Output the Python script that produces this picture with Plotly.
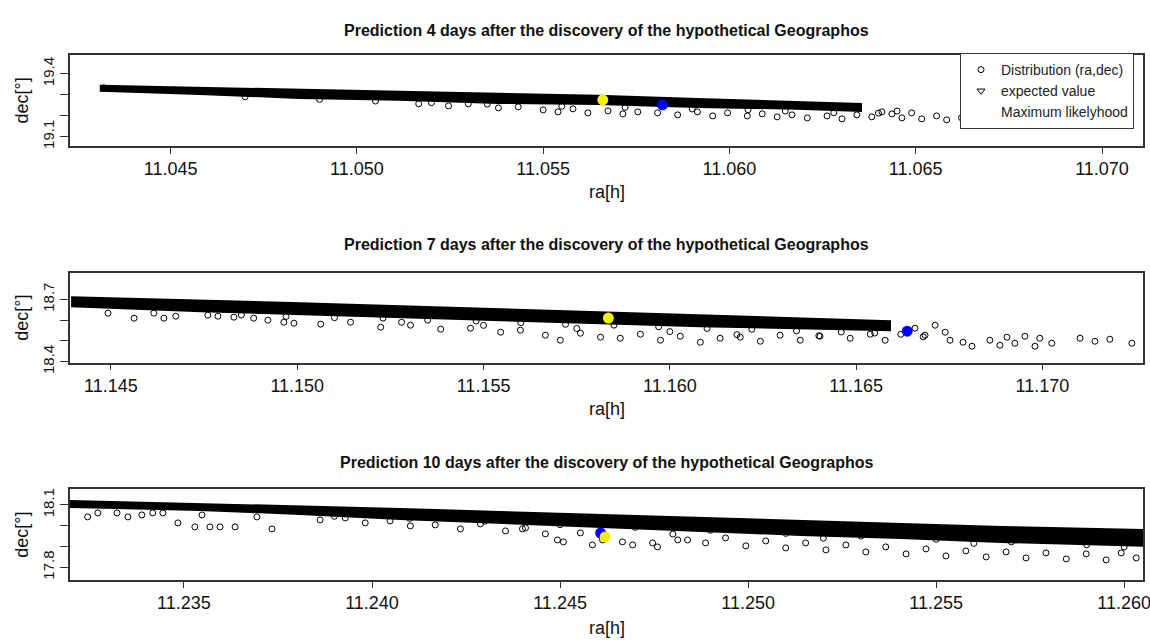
import plotly.graph_objects as go

# ---------------- data ----------------
titles = ["Prediction 4 days after the discovery of the hypothetical Geographos",
          "Prediction 7 days after the discovery of the hypothetical Geographos",
          "Prediction 10 days after the discovery of the hypothetical Geographos"]

# Panel 1 (4 days): dense band outline (upper edge then lower edge, reversed)
band1_ra = [11.04310, 11.04578, 11.04845, 11.05112, 11.05380, 11.05647, 11.05914, 11.06182, 11.06353,
            11.06353, 11.06182, 11.05914, 11.05647, 11.05380, 11.05112, 11.04845, 11.04578, 11.04310]
band1_dec = [19.343, 19.333, 19.323, 19.314, 19.304, 19.295, 19.280, 19.266, 19.256,
             19.223, 19.233, 19.242, 19.256, 19.261, 19.276, 19.285, 19.304, 19.319]
pts1_ra = [11.04321, 11.05166, 11.05246, 11.05299, 11.05380, 11.05433, 11.05500, 11.05540, 11.05580,
           11.05620, 11.05674, 11.05714, 11.05754, 11.05807, 11.05861, 11.05914, 11.05955, 11.05995,
           11.06048, 11.06088, 11.06128, 11.06168, 11.06209, 11.06262, 11.06302, 11.06342, 11.06382,
           11.06409, 11.06436, 11.06463, 11.06489, 11.06516, 11.06556, 11.06583, 11.06623, 11.06676,
           11.06703,
           11.0470, 11.0490, 11.0505, 11.0520, 11.0535, 11.0555, 11.0572, 11.0590, 11.0605,
           11.0615, 11.0628, 11.0640, 11.0645]
pts1_dec = [19.333, 19.2565, 19.2469, 19.2565, 19.2373, 19.2421, 19.2278, 19.2182, 19.2325,
            19.2134, 19.2230, 19.2086, 19.2182, 19.2134, 19.2038, 19.2182, 19.1990, 19.2134,
            19.1990, 19.2086, 19.1943, 19.2038, 19.1895, 19.1990, 19.1847, 19.2038, 19.1943,
            19.2182, 19.2086, 19.1895, 19.2134, 19.1847, 19.1990, 19.1799, 19.1895, 19.1751,
            19.1895,
            19.290, 19.278, 19.270, 19.262, 19.255, 19.245, 19.240, 19.232, 19.228,
            19.222, 19.214, 19.212, 19.222]
exp1 = (11.0566, 19.276)
ml1 = (11.0582, 19.252)

# Panel 2 (7 days)
band2_ra = [11.14393, 11.14741, 11.15009, 11.15277, 11.15546, 11.15814, 11.16082, 11.16350, 11.16591,
            11.16591, 11.16350, 11.16082, 11.15814, 11.15546, 11.15277, 11.15009, 11.14741, 11.14393]
band2_dec = [18.711, 18.6966, 18.6821, 18.6676, 18.6531, 18.6386, 18.6242, 18.6097, 18.5952,
             18.5517, 18.5614, 18.5710, 18.5855, 18.6000, 18.6145, 18.6290, 18.6435, 18.6676]
pts2_ra = [11.14492, 11.14562, 11.14615, 11.14642, 11.14674, 11.14760, 11.14787, 11.14830, 11.14883,
           11.14921, 11.14964, 11.14991, 11.15063, 11.15143, 11.15224, 11.15304, 11.15385, 11.15465,
           11.15546, 11.15599, 11.15666, 11.15706, 11.15760, 11.15814, 11.15867, 11.15921, 11.15975,
           11.16028, 11.16082, 11.16135, 11.16189, 11.16243, 11.16296, 11.16350, 11.16403, 11.16484,
           11.16538, 11.16578, 11.16658, 11.16685, 11.16712, 11.16739, 11.16752, 11.16787, 11.16811,
           11.16859, 11.16886, 11.16905, 11.16926, 11.16953, 11.16980, 11.16993, 11.17025, 11.17101,
           11.17141, 11.17181, 11.17240,
           11.1485, 11.1497, 11.1510, 11.1523, 11.1535, 11.1548, 11.1560, 11.1572, 11.1585,
           11.1597, 11.1610, 11.1622, 11.1634, 11.1646, 11.1655, 11.1600, 11.1575, 11.1550,
           11.1528, 11.1618, 11.1640, 11.1662, 11.1668]
pts2_dec = [18.6338, 18.6097, 18.6338, 18.6097, 18.6193, 18.6242, 18.6193, 18.6145, 18.6097,
            18.6000, 18.5903, 18.5855, 18.5807, 18.5903, 18.5662, 18.5758, 18.5565, 18.5614,
            18.5420, 18.5517, 18.5275, 18.5034, 18.5372, 18.5179, 18.5130, 18.5324, 18.5034,
            18.5227, 18.4937, 18.5130, 18.5179, 18.4986, 18.5275, 18.5034, 18.5227, 18.5130,
            18.5324, 18.5034, 18.5614, 18.5275, 18.5758, 18.5420, 18.5034, 18.4937, 18.4744,
            18.5034, 18.4792, 18.5179, 18.4889, 18.5227, 18.4744, 18.5130, 18.4889, 18.5130,
            18.4986, 18.5082, 18.4889,
            18.625, 18.618, 18.612, 18.610, 18.600, 18.596, 18.588, 18.580, 18.576,
            18.568, 18.560, 18.556, 18.548, 18.543, 18.538, 18.545, 18.560, 18.575,
            18.590, 18.530, 18.525, 18.532, 18.520]
exp2 = (11.15835, 18.610)
ml2 = (11.16637, 18.547)

# Panel 3 (10 days)
band3_ra = [11.23196, 11.23543, 11.23809, 11.24075, 11.24341, 11.24608, 11.24874, 11.25140, 11.25406,
            11.25673, 11.26053,
            11.26053, 11.25673, 11.25406, 11.25140, 11.24874, 11.24608, 11.24341, 11.24075, 11.23809,
            11.23543, 11.23196]
band3_dec = [18.1192, 18.1048, 18.0952, 18.0808, 18.0663, 18.0519, 18.0375, 18.0231, 18.0087,
             17.9942, 17.9798,
             17.9029, 17.9221, 17.9413, 17.9558, 17.9750, 17.9942, 18.0135, 18.0327, 18.0567,
             18.0760, 18.0904]
pts3_ra = [11.23244, 11.23271, 11.23322, 11.23351, 11.23388, 11.23417, 11.23444, 11.23484, 11.23529,
           11.23548, 11.23569, 11.23596, 11.23636, 11.23694, 11.23734, 11.23862, 11.23929, 11.23982,
           11.24048, 11.24102, 11.24168, 11.24235, 11.24288, 11.24355, 11.24408, 11.24461, 11.24493,
           11.24509, 11.24554, 11.24586, 11.24613, 11.24666, 11.24693, 11.24746, 11.24759, 11.24813,
           11.24839, 11.24887, 11.24940, 11.24994, 11.25047, 11.25100, 11.25153, 11.25207, 11.25260,
           11.25313, 11.25366, 11.25420, 11.25473, 11.25526, 11.25579, 11.25633, 11.25686, 11.25739,
           11.25792, 11.25846, 11.25899, 11.25952, 11.25992, 11.26032,
           11.2390, 11.2410, 11.2430, 11.2450, 11.2470, 11.2490, 11.2510, 11.2530, 11.2550,
           11.2570, 11.2590, 11.2600, 11.2520, 11.2560, 11.2480, 11.2440]
pts3_dec = [18.0423, 18.0615, 18.0615, 18.0423, 18.0519, 18.0615, 18.0615, 18.0135, 17.9942,
            18.0519, 17.9942, 17.9942, 17.9942, 18.0423, 17.9846, 18.0279, 18.0375, 18.0135,
            18.0231, 17.9990, 18.0038, 17.9846, 18.0087, 17.9750, 17.9894, 17.9606, 17.9317,
            17.9221, 17.9654, 17.9077, 17.9317, 17.9221, 17.9077, 17.9173, 17.8981, 17.9317,
            17.9317, 17.9173, 17.9413, 17.9029, 17.9269, 17.8933, 17.9173, 17.8837, 17.9077,
            17.8740, 17.8981, 17.8644, 17.8885, 17.8548, 17.8788, 17.8500, 17.8740, 17.8452,
            17.8692, 17.8404, 17.8644, 17.8356, 17.8692, 17.8452,
            18.045, 18.035, 18.022, 18.005, 17.992, 17.978, 17.963, 17.950, 17.935,
            17.922, 17.908, 17.898, 17.940, 17.915, 17.960, 17.985]
exp3 = (11.2462, 17.946)
ml3 = (11.24608, 17.965)

x_ticks = [[11.045, 11.050, 11.055, 11.060, 11.065, 11.070],
           [11.145, 11.150, 11.155, 11.160, 11.165, 11.170],
           [11.235, 11.240, 11.245, 11.250, 11.255, 11.260]]
x_ranges = [[11.0423, 11.0711], [11.1439, 11.1727], [11.23197, 11.2605]]
y_ticks = [[19.1, 19.2, 19.3, 19.4], [18.4, 18.5, 18.6, 18.7], [17.8, 17.9, 18.0, 18.1]]
y_ticktext = [["19.1", "", "", "19.4"], ["18.4", "", "", "18.7"], ["17.8", "", "", "18.1"]]
y_ranges = [[19.055, 19.49], [18.395, 18.829], [17.739, 18.175]]

# ---------------- layout geometry ----------------
W, H = 1150, 640
FONT = "Liberation Sans, Arial, Helvetica, sans-serif"
x_dom = [70 / W, 1143 / W]
panels_px = [(55, 146), (272.7, 362.7), (489.3, 580)]
title_px = [30, 244, 462]
xlab_px = [192, 409, 628]

bands = [(band1_ra, band1_dec), (band2_ra, band2_dec), (band3_ra, band3_dec)]
pts = [(pts1_ra, pts1_dec), (pts2_ra, pts2_dec), (pts3_ra, pts3_dec)]
exps = [exp1, exp2, exp3]
mls = [ml1, ml2, ml3]

fig = go.Figure()
for i in range(3):
    xa = "x" if i == 0 else f"x{i+1}"
    ya = "y" if i == 0 else f"y{i+1}"
    bra, bdec = bands[i]
    fig.add_trace(go.Scatter(x=bra, y=bdec, xaxis=xa, yaxis=ya, mode="lines", fill="toself",
                             fillcolor="black", line=dict(color="black", width=2),
                             showlegend=False, hoverinfo="skip"))
    pra, pdec = pts[i]
    fig.add_trace(go.Scatter(x=pra, y=pdec, xaxis=xa, yaxis=ya, mode="markers",
                             marker=dict(symbol="circle-open", size=6, color="black",
                                         line=dict(width=1, color="black")),
                             name="Distribution (ra,dec)", showlegend=(i == 0)))
    fig.add_trace(go.Scatter(x=[mls[i][0]], y=[mls[i][1]], xaxis=xa, yaxis=ya, mode="markers",
                             marker=dict(symbol="circle", size=11, color="#0000ff"),
                             showlegend=False))
    fig.add_trace(go.Scatter(x=[exps[i][0]], y=[exps[i][1]], xaxis=xa, yaxis=ya, mode="markers",
                             marker=dict(symbol="circle", size=11, color="#f2f200"),
                             showlegend=False))

# legend-only entries
fig.add_trace(go.Scatter(x=[None], y=[None], mode="markers", name="expected value",
                         marker=dict(symbol="triangle-down-open", size=7, color="black",
                                     line=dict(width=1, color="black"))))
fig.add_trace(go.Scatter(x=[None], y=[None], mode="markers", name="Maximum likelyhood",
                         marker=dict(symbol="circle", size=6, color="rgba(0,0,0,0)")))

layout = dict(width=W, height=H, margin=dict(l=0, r=0, t=0, b=0, autoexpand=False),
              paper_bgcolor="white", plot_bgcolor="white",
              font=dict(family=FONT, color="#111111"),
              legend=dict(x=1134 / W, y=1 - 53 / H, xanchor="right", yanchor="top",
                          bordercolor="#333333", borderwidth=1, bgcolor="white",
                          font=dict(size=14, family=FONT, color="#222222"),
                          itemwidth=30, tracegroupgap=0),
              annotations=[], showlegend=True)

for i in range(3):
    top, bot = panels_px[i]
    xk = "xaxis" if i == 0 else f"xaxis{i+1}"
    yk = "yaxis" if i == 0 else f"yaxis{i+1}"
    ya = "y" if i == 0 else f"y{i+1}"
    xa = "x" if i == 0 else f"x{i+1}"
    layout[xk] = dict(domain=x_dom, range=x_ranges[i], anchor=ya, tickvals=x_ticks[i],
                      ticktext=[f"{v:.3f}" for v in x_ticks[i]], showgrid=False, zeroline=False,
                      showline=True, mirror=True, linecolor="#333333", linewidth=1.5,
                      ticks="outside", ticklen=6, tickcolor="#333333", automargin=False,
                      ticklabeloverflow="allow",
                      tickfont=dict(size=18, family=FONT, color="#111111"))
    layout[yk] = dict(domain=[1 - bot / H, 1 - top / H], range=y_ranges[i], anchor=xa,
                      tickvals=y_ticks[i], ticktext=y_ticktext[i], tickangle=-90,
                      showgrid=False, zeroline=False, showline=True, mirror=True,
                      linecolor="#333333", linewidth=1.5, ticks="outside", ticklen=8,
                      tickcolor="#333333", automargin=False,
                      tickfont=dict(size=15, family=FONT, color="#111111"))
    layout["annotations"].append(dict(text=f"<b>{titles[i]}</b>", xref="paper", yref="paper",
                                      x=sum(x_dom) / 2, y=1 - title_px[i] / H, showarrow=False,
                                      xanchor="center", yanchor="middle",
                                      font=dict(size=16, family=FONT, color="#111111")))
    layout["annotations"].append(dict(text="ra[h]", xref="paper", yref="paper",
                                      x=sum(x_dom) / 2, y=1 - xlab_px[i] / H, showarrow=False,
                                      xanchor="center", yanchor="middle",
                                      font=dict(size=18, family=FONT, color="#111111")))
    layout["annotations"].append(dict(text="dec[°]", xref="paper", yref="paper",
                                      x=22 / W, y=1 - (top + bot) / 2 / H, showarrow=False,
                                      textangle=-90, xanchor="center", yanchor="middle",
                                      font=dict(size=18, family=FONT, color="#111111")))

fig.update_layout(**layout)
fig.write_html("out.html")
